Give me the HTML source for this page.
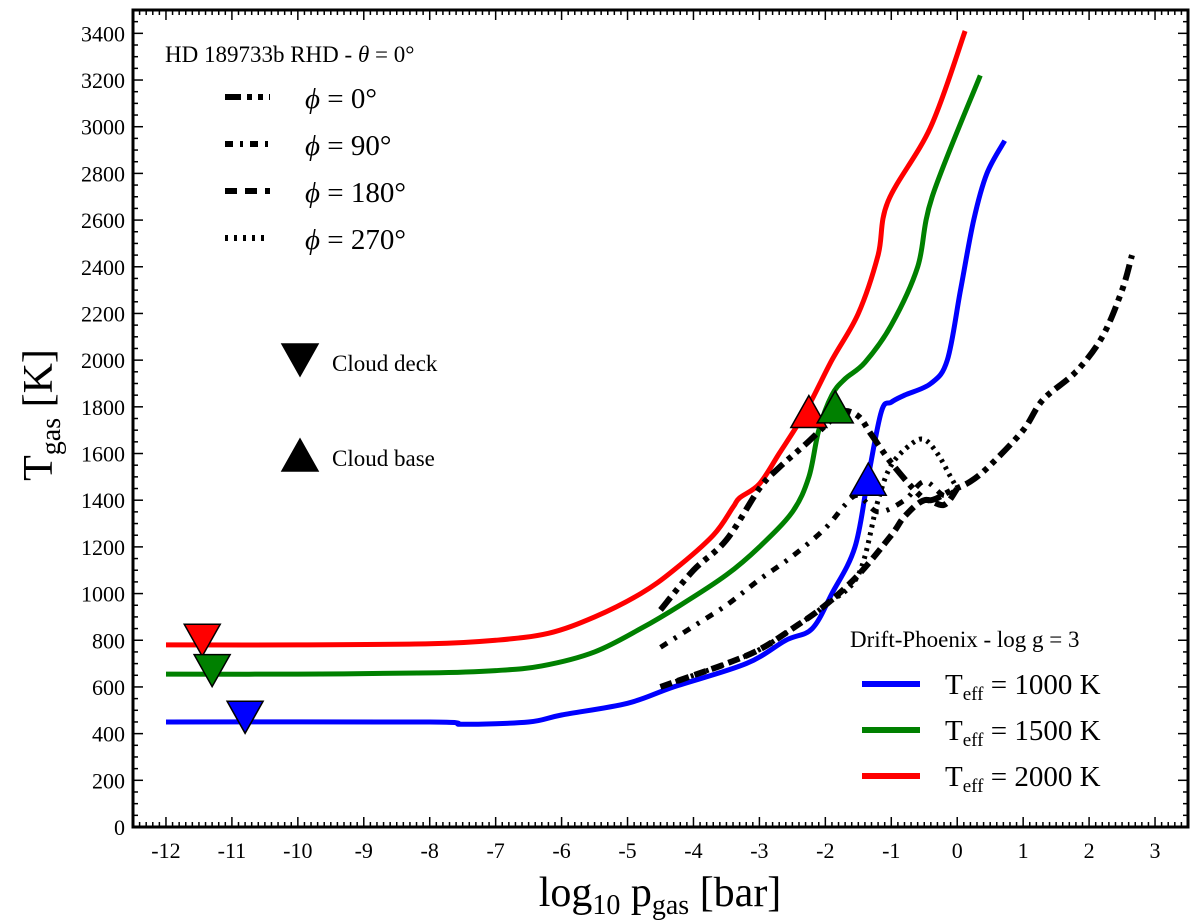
<!DOCTYPE html>
<html><head><meta charset="utf-8"><style>
body{margin:0;background:#fff;}
svg{display:block;font-family:"Liberation Serif",serif;}
</style></head><body>
<svg id="chart" width="1200" height="924" viewBox="0 0 1200 924">
<g id="plot"></g>
</svg>
<script>
// ---- data ----
const xTicks=[-12,-11,-10,-9,-8,-7,-6,-5,-4,-3,-2,-1,0,1,2,3];
const yTicks=[0,200,400,600,800,1000,1200,1400,1600,1800,2000,2200,2400,2600,2800,3000,3200,3400];
const redX=[-12,-10,-8,-7,-6.2,-5.5,-4.8,-4.3,-3.7,-3.4,-3.3,-3.0,-2.7,-2.3,-1.9,-1.5,-1.2,-1.05,-0.4,0.12];
const redY=[780,780,785,800,830,900,1000,1100,1250,1370,1410,1470,1600,1780,2000,2200,2450,2680,3000,3410];
const greenX=[-12,-10,-8,-7,-6.3,-5.5,-4.8,-4.2,-3.5,-3.0,-2.5,-2.25,-2.1,-1.9,-1.7,-1.4,-1.0,-0.6,-0.38,0.35];
const greenY=[655,655,660,670,690,750,850,950,1080,1200,1350,1500,1700,1850,1920,1990,2150,2400,2700,3220];
const blueX=[-12,-8,-7.5,-6.5,-6,-5,-4.3,-3.2,-2.6,-2.2,-1.9,-1.55,-1.35,-1.15,-1.0,-0.8,-0.4,-0.15,0.05,0.25,0.45,0.72];
const blueY=[450,450,440,450,480,530,600,700,800,850,1000,1200,1500,1780,1820,1850,1900,2000,2300,2600,2800,2940];
const phi0X=[-4.5,-4,-3.5,-3,-2.7,-2.3,-2.0,-1.75,-1.5,-1.3,-1.0,-0.6,-0.4,-0.1,0.2,0.5,1.0,1.3,1.8,2.2,2.5,2.65];
const phi0Y=[930,1100,1230,1450,1540,1640,1720,1780,1760,1680,1560,1430,1400,1440,1480,1550,1700,1830,1950,2100,2300,2450];
const phi90X=[-4.5,-4,-3.5,-3,-2.5,-2,-1.7,-1.5,-1.2,-0.8,-0.5,-0.2,0];
const phi90Y=[770,860,950,1060,1160,1280,1380,1420,1350,1400,1480,1420,1450];
const phi180X=[-4.5,-4,-3.5,-3,-2.5,-2,-1.5,-1,-0.8,-0.5,-0.2,0];
const phi180Y=[600,650,700,760,850,950,1080,1250,1330,1400,1380,1450];
const phi270X=[-4.5,-4,-3.5,-3,-2.5,-2,-1.5,-1.2,-1,-0.7,-0.5,-0.3,-0.1,0];
const phi270Y=[600,650,700,760,850,950,1080,1400,1550,1640,1660,1600,1500,1450];
const deckX=[-11.45,-11.3,-10.8];
const deckY=[800,670,470];
const baseX=[-2.25,-1.85,-1.35];
const baseY=[1780,1800,1490];
const markerColors=["#ff0000","#008000","#0000ff"];

// ---- axes ----
const L=133,R=1188,T=10,B=827,xmin=-12.5,xmax=3.5,ymin=0,ymax=3500;
const sx=v=>L+(v-xmin)/(xmax-xmin)*(R-L);
const sy=v=>B-(v-ymin)/(ymax-ymin)*(B-T);
const NS="http://www.w3.org/2000/svg";
const svg=document.getElementById('chart');
function mk(tag,attrs,parent){const e=document.createElementNS(NS,tag);for(const k in attrs)e.setAttribute(k,attrs[k]);(parent||svg).appendChild(e);return e;}
function smoothPath(xs,ys){
 const P=xs.map((x,i)=>[sx(x),sy(ys[i])]);
 let d="M"+P[0][0].toFixed(1)+","+P[0][1].toFixed(1);
 for(let i=0;i<P.length-1;i++){
  const p0=P[i-1]||P[i],p1=P[i],p2=P[i+1],p3=P[i+2]||P[i+1];
  const c1=[p1[0]+(p2[0]-p0[0])/6,p1[1]+(p2[1]-p0[1])/6];
  const c2=[p2[0]-(p3[0]-p1[0])/6,p2[1]-(p3[1]-p1[1])/6];
  d+=` C${c1[0].toFixed(1)},${c1[1].toFixed(1)} ${c2[0].toFixed(1)},${c2[1].toFixed(1)} ${p2[0].toFixed(1)},${p2[1].toFixed(1)}`;
 }
 return d;
}

// ticks
for(let v=-12.5;v<=3.5001;v+=0.1){const x=sx(v);const major=Math.abs(v-Math.round(v))<0.01;const len=major?10:5;
 let t=mk('line',{x1:x,x2:x,y1:B,y2:B-len,stroke:'#000','stroke-width':1.5});
 
 let t2=mk('line',{x1:x,x2:x,y1:T,y2:T+len,stroke:'#000','stroke-width':1.5});
 }
for(let v=0;v<=3500;v+=50){const y=sy(v);const major=v%200===0;const len=major?10:5;
 let t=mk('line',{x1:L,x2:L+len,y1:y,y2:y,stroke:'#000','stroke-width':1.5});
 
 let t2=mk('line',{x1:R,x2:R-len,y1:y,y2:y,stroke:'#000','stroke-width':1.5});
 }
xTicks.forEach(v=>{const t=mk('text',{x:sx(v),y:B+31,'font-size':22,'text-anchor':'middle'});t.textContent=String(v);
 });
yTicks.forEach(v=>{const t=mk('text',{x:L-8,y:sy(v)+8,'font-size':22,'text-anchor':'end'});t.textContent=String(v);
 });

// series
function line(xs,ys,color,w,dash,name){const p=mk('path',{d:smoothPath(xs,ys),fill:'none',stroke:color,'stroke-width':w,'stroke-linejoin':'round'});
 if(dash)p.setAttribute('stroke-dasharray',dash);
 }
line(redX,redY,'#ff0000',5,null,'series-teff-2000');
line(greenX,greenY,'#008000',5,null,'series-teff-1500');
line(blueX,blueY,'#0000ff',5,null,'series-teff-1000');
line(phi0X,phi0Y,'#000',6,'16 6 5 6 5 6','series-phi-0');
line(phi90X,phi90Y,'#000',5,'8 8 3 8','series-phi-90');
line(phi180X,phi180Y,'#000',6,'12 6','series-phi-180');
line(phi270X,phi270Y,'#000',5,'3 5','series-phi-270');

function tri(cx,cy,down,color,name){const s=18;const h=32;
 const p=down?`${cx-s},${cy-h/2} ${cx+s},${cy-h/2} ${cx},${cy+h/2}`:`${cx-s},${cy+h/2} ${cx+s},${cy+h/2} ${cx},${cy-h/2}`;
 const e=mk('polygon',{points:p,fill:color,stroke:'#000','stroke-width':1.5});
 }
deckX.forEach((x,i)=>tri(sx(x),sy(deckY[i]),true,markerColors[i],'cloud-deck-marker'));
baseX.forEach((x,i)=>tri(sx(x),sy(baseY[i]),false,markerColors[i],'cloud-base-marker'));

// frame
const f=mk('rect',{x:L,y:T,width:R-L,height:B-T,fill:'none',stroke:'#000','stroke-width':3});


// legends
tri(300,360,true,'#000','legend-cloud-deck-marker');
tri(300,455,false,'#000','legend-cloud-base-marker');
</script>
<svg style="position:absolute;left:0;top:0" width="1200" height="924">
<g font-family="Liberation Serif, serif">
<text x="165" y="62" font-size="23">HD 189733b RHD - <tspan font-style="italic">θ</tspan> = 0°</text>
<line x1="225" x2="270" y1="97" y2="97" stroke="#000" stroke-width="6" stroke-dasharray="16 6 5 6 5 6"/>
<text x="305" y="108" font-size="29"><tspan font-style="italic">ϕ</tspan> = 0°</text>
<line x1="225" x2="270" y1="144" y2="144" stroke="#000" stroke-width="6" stroke-dasharray="8 7 3 7"/>
<text x="305" y="155" font-size="29"><tspan font-style="italic">ϕ</tspan> = 90°</text>
<line x1="225" x2="270" y1="191" y2="191" stroke="#000" stroke-width="6" stroke-dasharray="12 8"/>
<text x="305" y="202" font-size="29"><tspan font-style="italic">ϕ</tspan> = 180°</text>
<line x1="225" x2="270" y1="238" y2="238" stroke="#000" stroke-width="6" stroke-dasharray="3 6"/>
<text x="305" y="249" font-size="29"><tspan font-style="italic">ϕ</tspan> = 270°</text>
<text x="332" y="371" font-size="23">Cloud deck</text>
<text x="332" y="466" font-size="23">Cloud base</text>
<text x="850" y="647" font-size="23">Drift-Phoenix - log g = 3</text>
<line x1="862" x2="920" y1="684" y2="684" stroke="#0000ff" stroke-width="6"/>
<text x="945" y="694" font-size="29">T<tspan font-size="19" dy="6">eff</tspan><tspan dy="-6"> = 1000 K</tspan></text>
<line x1="862" x2="920" y1="730" y2="730" stroke="#008000" stroke-width="6"/>
<text x="945" y="740" font-size="29">T<tspan font-size="19" dy="6">eff</tspan><tspan dy="-6"> = 1500 K</tspan></text>
<line x1="862" x2="920" y1="776" y2="776" stroke="#ff0000" stroke-width="6"/>
<text x="945" y="786" font-size="29">T<tspan font-size="19" dy="6">eff</tspan><tspan dy="-6"> = 2000 K</tspan></text>
<text x="660" y="906" font-size="42" text-anchor="middle">log<tspan font-size="28" dy="8">10</tspan><tspan dy="-8"> p</tspan><tspan font-size="28" dy="8">gas</tspan><tspan dy="-8"> [bar]</tspan></text>
<text transform="translate(52,415) rotate(-90)" font-size="42" text-anchor="middle">T<tspan font-size="28" dy="8">gas</tspan><tspan dy="-8"> [K]</tspan></text>
</g>
</svg>
</body></html>
